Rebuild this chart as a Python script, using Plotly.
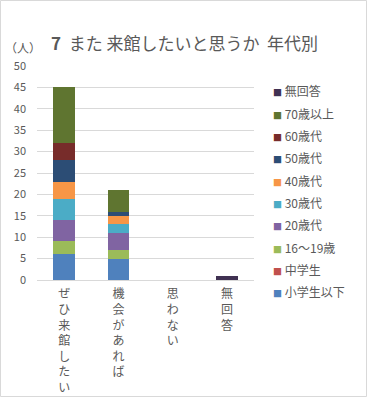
import plotly.graph_objects as go

categories = ["ぜひ来館したい", "機会があれば", "思わない", "無回答"]
series_names = ["小学生以下", "中学生", "16～19歳", "20歳代", "30歳代", "40歳代", "50歳代", "60歳代", "70歳以上", "無回答"]
values = {
    "小学生以下": [6, 5, 0, 0],
    "中学生": [0, 0, 0, 0],
    "16～19歳": [3, 2, 0, 0],
    "20歳代": [5, 4, 0, 0],
    "30歳代": [5, 2, 0, 0],
    "40歳代": [4, 2, 0, 0],
    "50歳代": [5, 1, 0, 0],
    "60歳代": [4, 0, 0, 0],
    "70歳以上": [13, 5, 0, 0],
    "無回答": [0, 0, 0, 1],
}
colors = ["#4F81BD", "#C0504D", "#9BBB59", "#8064A2", "#4BACC6", "#F79646",
          "#2C4D75", "#772C2A", "#5F7530", "#403152"]
y_ticks = list(range(0, 51, 5))

W, H = 367, 397
ml, mr, mt, mb = 37, 113, 66, 117
pw, ph = W - ml - mr, H - mt - mb

def px(x):
    return (x - ml) / pw

def py(y):
    return (H - mb - y) / ph

fig = go.Figure()
for name, col in zip(series_names, colors):
    fig.add_trace(go.Bar(x=categories, y=values[name], name=name,
                         marker=dict(color=col, line=dict(width=0)), width=0.4,
                         showlegend=False))

ticktext = ["<br>".join(list(c)) for c in categories]

annotations = [
    dict(text="<b>7</b>  また 来館したいと思うか  年代別", xref="paper", yref="paper",
         x=px(184), y=py(42), xanchor="center", yanchor="middle",
         showarrow=False, font=dict(size=17, color="#595959")),
    dict(text="（人）", xref="paper", yref="paper",
         x=px(3), y=py(47), xanchor="left", yanchor="middle",
         showarrow=False, font=dict(size=12, color="#595959")),
]
# custom legend (top: last series)
leg_top, leg_step = 91, 22.3
for i, (name, col) in enumerate(reversed(list(zip(series_names, colors)))):
    yy = leg_top + i * leg_step
    annotations.append(dict(
        text=f'<span style="color:{col};font-size:9px">■</span> {name}', xref="paper", yref="paper",
        x=px(271), y=py(yy), xanchor="left", yanchor="middle", showarrow=False,
        font=dict(size=12, color="#595959")))

fig.update_layout(
    width=W, height=H,
    margin=dict(l=ml, r=mr, t=mt, b=mb),
    barmode="stack",
    plot_bgcolor="white", paper_bgcolor="white",
    font=dict(family="Noto Sans CJK JP", color="#595959", size=11),
    showlegend=False,
    xaxis=dict(tickvals=categories, ticktext=ticktext, showline=True,
               linecolor="#D9D9D9", ticks="", tickfont=dict(size=12, color="#595959"),
               tickangle=0, automargin=False, ticklabelstandoff=3),
    yaxis=dict(range=[0, 50], tickvals=y_ticks, showgrid=True, gridcolor="#D9D9D9",
               zeroline=False, ticks="", tickfont=dict(size=11, color="#595959"),
               ticklabelstandoff=10, automargin=False),
    shapes=[dict(type="rect", xref="paper", yref="paper",
                 x0=px(0.5), x1=px(W - 0.5),
                 y0=py(H - 0.5), y1=py(0.5),
                 line=dict(color="#D9D9D9", width=1))],
    annotations=annotations,
)

fig.write_html("out.html", config={"displayModeBar": False},
               post_script="document.body.style.margin='0px';document.body.style.overflow='hidden';")
